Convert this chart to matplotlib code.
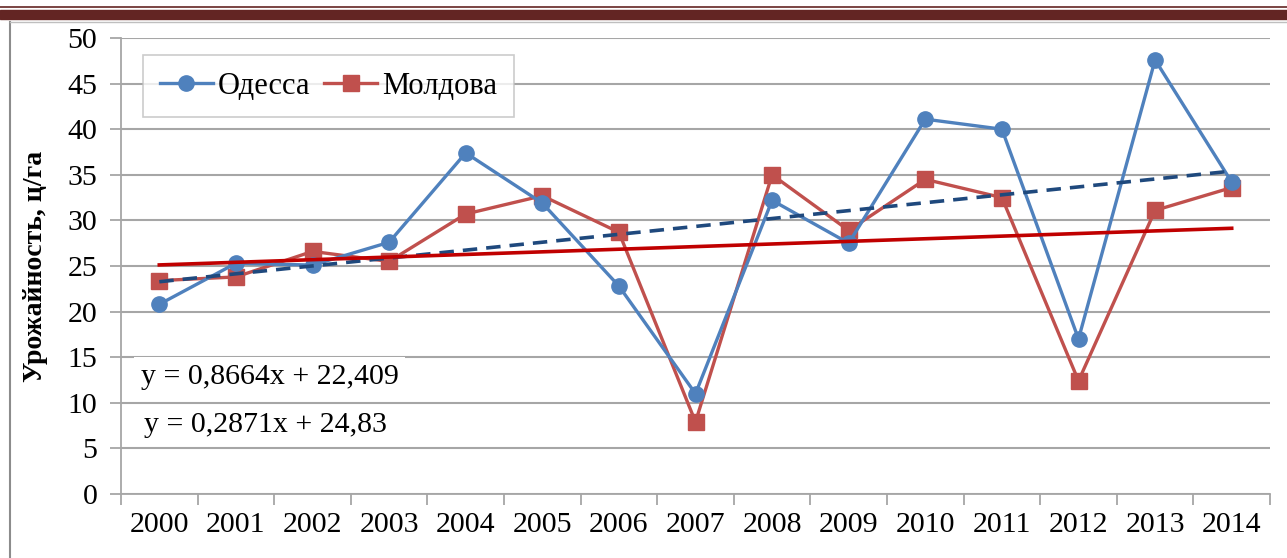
import numpy as np
import matplotlib.pyplot as plt
from matplotlib.patches import Rectangle
from matplotlib.lines import Line2D

plt.rcParams['font.family'] = ['Liberation Serif', 'DejaVu Serif']

years = ['2000', '2001', '2002', '2003', '2004', '2005', '2006', '2007',
         '2008', '2009', '2010', '2011', '2012', '2013', '2014']
odessa = [20.8, 25.3, 25.1, 27.6, 37.4, 31.9, 22.8, 11.0,
          32.2, 27.5, 41.1, 40.0, 17.0, 47.6, 34.2]
moldova = [23.4, 23.8, 26.6, 25.5, 30.7, 32.7, 28.7, 7.9,
           35.0, 28.9, 34.5, 32.5, 12.4, 31.1, 33.6]
# trend coefficients as shown on the chart (x = 1..15)
trend_odessa = [0.8664, 22.409]
trend_moldova = [0.2871, 24.83]
eq_odessa = 'y = 0,8664x + 22,409'
eq_moldova = 'y = 0,2871x + 24,83'

blue = '#4F81BD'
red = '#C0504D'
grid_c = '#A6A6A6'

fig = plt.figure(figsize=(12.87, 5.58), dpi=100)

# frame decorations (dark red band at top, grey border)
fig.patches.append(Rectangle((0, 1 - 19 / 558), 1, 9 / 558, transform=fig.transFigure,
                             color='#632523', zorder=0))
fig.lines.append(Line2D([0, 1], [1 - 7 / 558, 1 - 7 / 558], transform=fig.transFigure,
                        color='#632523', lw=1.2))
fig.lines.append(Line2D([10 / 1287, 10 / 1287], [0, 1 - 22 / 558], transform=fig.transFigure,
                        color='#8C8C8C', lw=1.5))
fig.lines.append(Line2D([10 / 1287, 1], [1 - 22 / 558, 1 - 22 / 558], transform=fig.transFigure,
                        color='#BFBFBF', lw=1.0))

ax = fig.add_axes([121 / 1287, 1 - 494 / 558, (1270 - 121) / 1287, (494 - 38) / 558])

x = np.arange(1, len(years) + 1)
ax.plot(x, odessa, color=blue, lw=2.4, marker='o', ms=11, label='Одесса', zorder=4)
ax.plot(x, moldova, color=red, lw=2.4, marker='s', ms=11, label='Молдова', zorder=3)

xt = np.array([x[0], x[-1]])
ax.plot(xt, trend_odessa[0] * xt + trend_odessa[1], color='#1F497D', lw=2.6,
        ls=(0, (4, 2.5)), zorder=5)
ax.plot(xt, trend_moldova[0] * xt + trend_moldova[1], color='#C00000', lw=2.6, zorder=5)

ax.set_xlim(0.5, len(years) + 0.5)
ax.set_ylim(0, 50)
ax.set_yticks(np.arange(0, 51, 5))
ax.set_xticks(x)
ax.set_xticklabels(years)
ax.set_xticks(np.arange(0.5, len(years) + 1, 1), minor=True)
ax.tick_params(axis='x', which='major', length=0, labelsize=21.5, pad=13)
ax.tick_params(axis='x', which='minor', length=8, color=grid_c, width=1.3)
ax.tick_params(axis='y', length=8, color=grid_c, width=1.3, labelsize=21.5, pad=9)

ax.yaxis.grid(True, color=grid_c, lw=1.5)
ax.set_axisbelow(True)
for s in ['top', 'right']:
    ax.spines[s].set_visible(False)
ax.spines['left'].set_color(grid_c)
ax.spines['bottom'].set_color(grid_c)
ax.spines['left'].set_linewidth(1.3)
ax.spines['bottom'].set_linewidth(1.3)

ax.set_ylabel('Урожайность, ц/га', fontsize=20, fontweight='bold', labelpad=14)

leg = ax.legend(loc='upper left', bbox_to_anchor=(0.019, 0.963), borderaxespad=0,
                ncol=2, fontsize=22, frameon=True, fancybox=False, edgecolor='#BFBFBF',
                handlelength=1.75, handletextpad=0.15, columnspacing=0.45, borderpad=0.55)
leg.get_frame().set_linewidth(1.2)

box = dict(facecolor='white', edgecolor='none', pad=5)
ax.text(0.017, 0.257, eq_odessa, transform=ax.transAxes, fontsize=21.5, va='center',
        ha='left', bbox=box, zorder=6)
ax.text(0.02, 0.152, eq_moldova, transform=ax.transAxes, fontsize=21.5, va='center',
        ha='left', bbox=box, zorder=6)

fig.savefig('out.png', dpi=100)
